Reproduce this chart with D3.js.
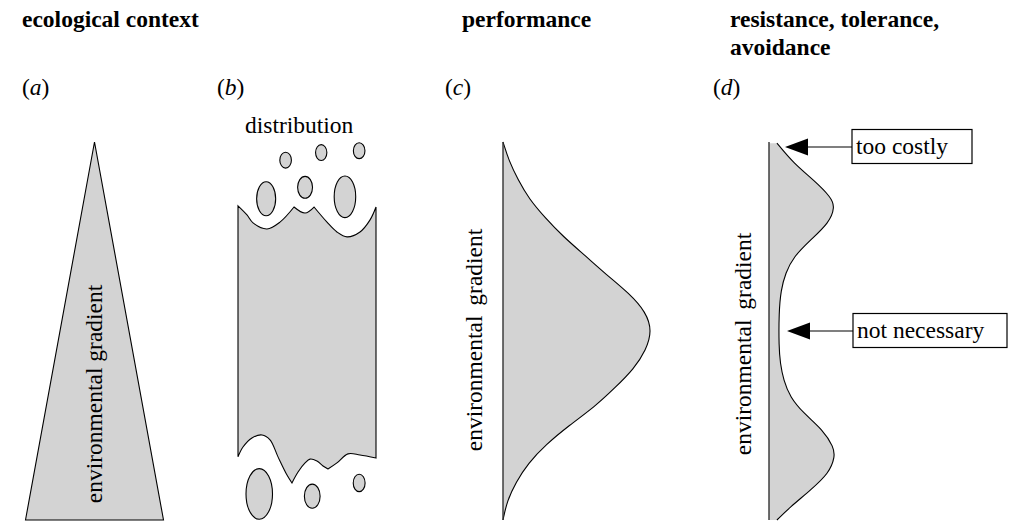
<!DOCTYPE html>
<html><head><meta charset="utf-8">
<script src="https://cdn.jsdelivr.net/npm/d3@7"></script>
<style>
html,body{margin:0;padding:0;background:#fff;}
svg text{font-family:"Liberation Serif","Times New Roman",serif;fill:#000;}
</style></head>
<body><svg id="chart" width="1009" height="523"></svg>
<script>
// ---------- data ----------
const titles = ["ecological context", "performance", "resistance, tolerance,", "avoidance"];
const panelLabels = ["a", "b", "c", "d"];
const axisLabel = "environmental gradient";
const distLabel = "distribution";
const callouts = ["too costly", "not necessary"];

// (a) triangle: relative width along the gradient
const triGradient = [0, 1];
const triWidth = [1, 0];

// (b) distribution outline (u across, g along gradient)
const distTopU = [0, 0.065, 0.109, 0.210, 0.304, 0.406];
const distTopG = [0.831, 0.807, 0.786, 0.770, 0.788, 0.828];
const distMidU = [0.406, 0.486, 0.551];
const distMidG = [0.828, 0.812, 0.828];
const distTop2U = [0.551, 0.645, 0.717, 0.790, 0.884, 0.957, 1];
const distTop2G = [0.828, 0.788, 0.762, 0.749, 0.762, 0.794, 0.828];
const distBotU = [0, 0.036, 0.101, 0.174, 0.232, 0.290, 0.355, 0.391];
const distBotG = [0.167, 0.193, 0.217, 0.225, 0.212, 0.167, 0.119, 0.098];
const distBot2U = [0.391, 0.435, 0.486, 0.522, 0.572, 0.616, 0.652];
const distBot2G = [0.098, 0.127, 0.151, 0.161, 0.156, 0.143, 0.135];
const distBot3U = [0.652, 0.717, 0.797, 0.884, 1];
const distBot3G = [0.135, 0.151, 0.175, 0.172, 0.164];
// isolated populations: centre u, centre g, radius u, radius g
const popU  = [0.345, 0.603, 0.878, 0.204, 0.486, 0.775, 0.154, 0.538, 0.878];
const popG  = [0.952, 0.972, 0.977, 0.850, 0.880, 0.855, 0.069, 0.063, 0.098];
const popRU = [0.042, 0.041, 0.042, 0.069, 0.054, 0.078, 0.096, 0.057, 0.043];
const popRG = [0.021, 0.021, 0.021, 0.045, 0.029, 0.055, 0.067, 0.032, 0.023];

// (c) performance along the gradient
const perfGradient = [0, 0.05, 0.10, 0.15, 0.20, 0.25, 0.30, 0.35, 0.40, 0.45, 0.50, 0.55, 0.60, 0.65, 0.70, 0.75, 0.80, 0.85, 0.90, 0.95, 1.0];
const perfValue    = [0, 0.027, 0.087, 0.168, 0.289, 0.443, 0.617, 0.752, 0.879, 0.960, 1.0, 0.960, 0.846, 0.691, 0.550, 0.403, 0.282, 0.174, 0.101, 0.040, 0];

// (d) resistance/tolerance/avoidance along the gradient
const resGradient = [0, 0.034, 0.079, 0.124, 0.167, 0.193, 0.238, 0.283, 0.325, 0.370, 0.415, 0.458, 0.548, 0.608, 0.653, 0.696, 0.741, 0.786, 0.828, 0.854, 0.899, 0.944, 0.997];
const resValue    = [0.12, 0.32, 0.63, 0.91, 1.0, 0.98, 0.82, 0.52, 0.32, 0.22, 0.17, 0.15, 0.15, 0.18, 0.25, 0.37, 0.63, 0.91, 1.0, 0.94, 0.68, 0.37, 0.12];

// ---------- drawing ----------
const svg = d3.select("#chart");
const FS = 23.5;
const FILL = "#d3d3d3";

const gy = d3.scaleLinear().domain([0, 1]).range([520, 142]);

// titles
svg.append("text").attr("x", 22).attr("y", 27).attr("font-weight", "bold").attr("font-size", FS).text(titles[0]);
svg.append("text").attr("x", 462).attr("y", 27).attr("font-weight", "bold").attr("font-size", FS).text(titles[1]);
svg.append("text").attr("x", 730).attr("y", 27).attr("font-weight", "bold").attr("font-size", FS).text(titles[2]);
svg.append("text").attr("x", 730).attr("y", 55).attr("font-weight", "bold").attr("font-size", FS).text(titles[3]);

// panel labels
const labelX = [22, 217, 445, 713];
panelLabels.forEach((l, i) => {
  const t = svg.append("text").attr("x", labelX[i]).attr("y", 95).attr("font-size", FS);
  t.append("tspan").text("(");
  t.append("tspan").attr("font-style", "italic").text(l);
  t.append("tspan").text(")");
});

function vLabel(x, yc, extra) {
  svg.append("text").attr("transform", `translate(${x},${yc}) rotate(-90)`)
    .attr("text-anchor", "middle").attr("font-size", FS)
    .attr("word-spacing", extra || 0).text(axisLabel);
}

// ----- (a) -----
const ax = d3.scaleLinear().domain([0, 1]).range([0, 69]);
const aCx = 94.5;
const triPts = [];
triGradient.forEach((g, i) => triPts.push([aCx - ax(triWidth[i]), gy(g)]));
for (let i = triGradient.length - 1; i >= 0; i--) triPts.push([aCx + ax(triWidth[i]), gy(triGradient[i])]);
svg.append("path").attr("d", d3.line()(triPts) + "Z")
  .attr("fill", FILL).attr("stroke", "#000").attr("stroke-width", 1.1).attr("stroke-linejoin", "miter");
vLabel(102, 394);

// ----- (b) -----
const bx = d3.scaleLinear().domain([0, 1]).range([238, 376]);
const bw = d3.scaleLinear().domain([0, 1]).range([0, 138]);
const bh = d3.scaleLinear().domain([0, 1]).range([0, 378]);
const segLine = d3.line().x(d => bx(d[0])).y(d => gy(d[1])).curve(d3.curveCatmullRom.alpha(0.5));
const zipPts = (u, g) => u.map((v, i) => [v, g[i]]);
const joinSegs = segs => segs.map((s, i) => { const p = segLine(s); return i === 0 ? p : "L" + p.slice(1); }).join("");
const topPath = [zipPts(distTopU, distTopG), zipPts(distMidU, distMidG), zipPts(distTop2U, distTop2G)];
const botPath = [zipPts(distBotU, distBotG), zipPts(distBot2U, distBot2G), zipPts(distBot3U, distBot3G)];
const revSegs = segs => segs.slice().reverse().map(s => s.slice().reverse());
const outline = joinSegs(topPath) + joinSegs(revSegs(botPath)).replace(/^M/, "L") + "Z";
svg.append("path").attr("d", outline)
  .attr("fill", FILL).attr("stroke", "#000").attr("stroke-width", 1.1);
popU.forEach((u, i) => {
  svg.append("ellipse").attr("cx", bx(u)).attr("cy", gy(popG[i]))
    .attr("rx", bw(popRU[i])).attr("ry", bh(popRG[i]))
    .attr("fill", FILL).attr("stroke", "#000").attr("stroke-width", 1.1);
});
svg.append("text").attr("x", 245).attr("y", 133).attr("font-size", FS).text(distLabel);

// ----- (c) -----
const cx = d3.scaleLinear().domain([0, 1]).range([503, 652]);
const cArea = d3.area().y(d => gy(d[0])).x0(cx(0)).x1(d => cx(d[1])).curve(d3.curveBasis);
const cLine = d3.line().y(d => gy(d[0])).x(d => cx(d[1])).curve(d3.curveBasis);
const cData = perfGradient.map((g, i) => [g, perfValue[i]]);
svg.append("path").attr("d", cArea(cData)).attr("fill", FILL);
svg.append("path").attr("d", cLine(cData)).attr("fill", "none").attr("stroke", "#000").attr("stroke-width", 1.1);
svg.append("line").attr("x1", cx(0)).attr("x2", cx(0)).attr("y1", gy(0)).attr("y2", gy(1))
  .attr("stroke", "#333").attr("stroke-width", 1.4);
vLabel(482, 340, 4);

// ----- (d) -----
const dx = d3.scaleLinear().domain([0, 1]).range([769, 835]);
const dArea = d3.area().y(d => gy(d[0])).x0(dx(0)).x1(d => dx(d[1])).curve(d3.curveBasis);
const dLine = d3.line().y(d => gy(d[0])).x(d => dx(d[1])).curve(d3.curveBasis);
const dData = resGradient.map((g, i) => [g, resValue[i]]);
svg.append("path").attr("d", dArea(dData)).attr("fill", FILL);
svg.append("path").attr("d", dLine(dData)).attr("fill", "none").attr("stroke", "#000").attr("stroke-width", 1.1);
svg.append("line").attr("x1", dx(0)).attr("x2", dx(0)).attr("y1", gy(0)).attr("y2", gy(1))
  .attr("stroke", "#333").attr("stroke-width", 1.4);
vLabel(751, 344, 4);

// callouts
const boxX = [852, 853], boxW = [120, 154], boxH = 34;
const tipX = [785, 787];
const cY = [147, 331];
callouts.forEach((txt, i) => {
  const y = cY[i];
  svg.append("line").attr("x1", tipX[i] + 22).attr("x2", boxX[i]).attr("y1", y).attr("y2", y)
    .attr("stroke", "#000").attr("stroke-width", 1.2);
  svg.append("path").attr("d", d3.line()([[tipX[i], y], [tipX[i] + 23, y - 8.5], [tipX[i] + 23, y + 8.5]]) + "Z")
    .attr("fill", "#000");
  svg.append("rect").attr("x", boxX[i]).attr("y", y - 17.5).attr("width", boxW[i]).attr("height", boxH)
    .attr("fill", "#fff").attr("stroke", "#000").attr("stroke-width", 1.2);
  svg.append("text").attr("x", boxX[i] + 4).attr("y", y + 7).attr("font-size", FS).text(txt);
});
</script></body></html>
